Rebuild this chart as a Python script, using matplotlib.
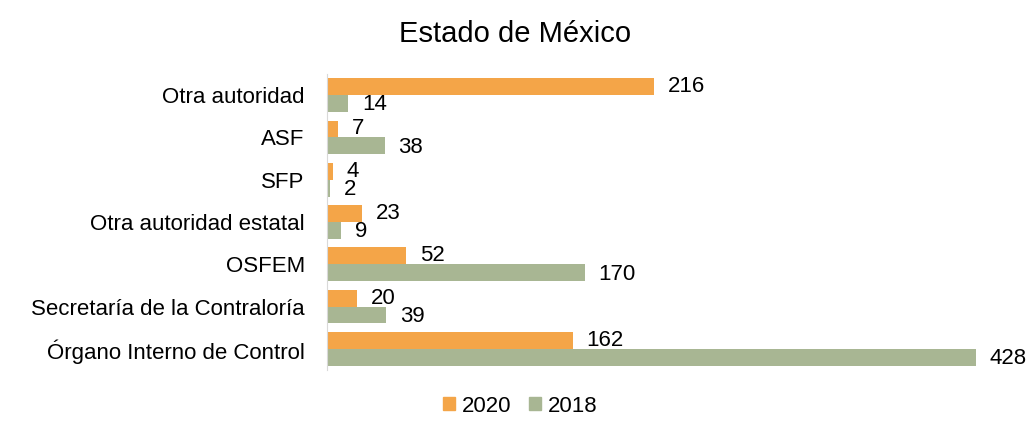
import numpy as np
import matplotlib.pyplot as plt
from matplotlib.patches import Patch

plt.rcParams['font.family'] = ['Liberation Sans', 'DejaVu Sans']

categorias = ["Órgano Interno de Control", "Secretaría de la Contraloría", "OSFEM",
              "Otra autoridad estatal", "SFP", "ASF", "Otra autoridad"]
valores_2020 = [162, 20, 52, 23, 4, 7, 216]
valores_2018 = [428, 39, 170, 9, 2, 38, 14]

color_2020 = "#F4A548"
color_2018 = "#A8B693"

fig = plt.figure(figsize=(10.34, 4.22), dpi=100)
ax = fig.add_axes([327 / 1034, 1 - 370 / 422, (1000 - 327) / 1034, (370 - 74) / 422])

y = np.arange(len(categorias))
h = 0.40
ax.barh(y + h / 2, valores_2020, height=h, color=color_2020, label="2020")
ax.barh(y - h / 2, valores_2018, height=h, color=color_2018, label="2018")

for yi, v in zip(y, valores_2020):
    ax.annotate(str(v), (v, yi + h / 2), xytext=(10, 0), textcoords="offset points",
                va="center", ha="left", fontsize=16)
for yi, v in zip(y, valores_2018):
    ax.annotate(str(v), (v, yi - h / 2), xytext=(10, -1), textcoords="offset points",
                va="center", ha="left", fontsize=16)

ax.set_xlim(0, 444)
ax.set_ylim(-0.5, len(categorias) - 0.5)
ax.set_yticks(y)
ax.set_yticklabels(categorias, fontsize=16)
ax.set_xticks([])
ax.tick_params(axis="y", length=0, pad=16)
for s in ["top", "right", "bottom"]:
    ax.spines[s].set_visible(False)
ax.spines["left"].set_color("#D9D9D9")

fig.text(515 / 1034, 1 - 34 / 422, "Estado de México", ha="center", va="center", fontsize=21)

handles = [Patch(color=color_2020, label="2020"), Patch(color=color_2018, label="2018")]
fig.legend(handles=handles, loc="center", bbox_to_anchor=(520 / 1034, 1 - 406 / 422), ncol=2,
           frameon=False, fontsize=16, handlelength=0.55, handleheight=0.55,
           handletextpad=0.3, columnspacing=0.8, borderpad=0.1)

fig.savefig("out.png", dpi=100)
